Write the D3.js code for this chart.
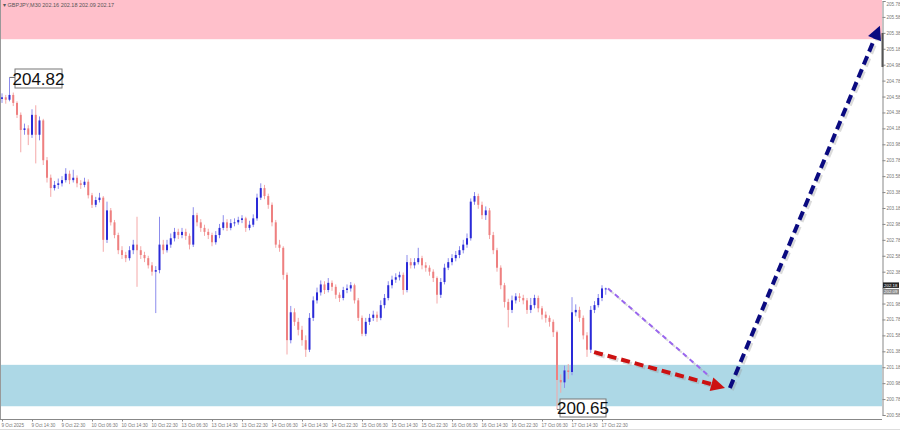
<!DOCTYPE html>
<html><head><meta charset="utf-8">
<script src="https://cdn.jsdelivr.net/npm/d3@7/dist/d3.min.js"></script>
<style>
html,body{margin:0;padding:0;background:#fff;}
svg{display:block;font-family:"Liberation Sans",Arial,sans-serif;}
</style></head>
<body><svg id="c" width="900" height="430"></svg>
<script>
// ---- data (GBPJPY, 1 slot = 3.75px) ----
const title = "GBPJPY,M30  202.16 202.18 202.09 202.17";
const firstOpen = 204.55;
const closes = [204.57,204.54,204.60,204.50,204.35,204.16,204.18,204.10,204.35,204.10,
204.28,203.78,203.56,203.43,203.47,203.49,203.53,203.61,203.53,203.56,
203.49,203.47,203.51,203.34,203.22,203.28,203.31,202.78,203.15,203.00,
202.84,202.65,202.59,202.55,202.65,202.72,202.65,202.59,202.55,202.46,
202.38,202.40,202.72,202.65,202.72,202.80,202.88,202.84,202.88,202.83,
202.72,203.09,203.00,202.93,202.88,202.84,202.75,202.84,202.93,203.00,
202.93,202.99,203.00,203.03,203.05,202.93,202.97,203.05,203.31,203.43,
203.33,203.22,203.00,202.72,202.68,202.34,201.52,201.87,201.75,201.65,
201.52,201.40,201.80,202.02,202.12,202.22,202.15,202.24,202.19,202.09,
202.05,202.15,202.17,202.21,202.02,201.80,201.60,201.75,201.80,201.84,
201.80,201.96,202.05,202.21,202.28,202.31,202.34,202.15,202.50,202.46,
202.50,202.55,202.46,202.43,202.38,202.30,202.09,202.25,202.43,202.50,
202.55,202.59,202.65,202.72,202.80,203.26,203.33,203.22,203.09,203.15,
202.84,202.65,202.43,202.21,202.00,201.90,202.02,202.07,202.05,202.02,
201.90,201.96,202.05,201.92,201.84,201.80,201.75,201.62,201.02,200.99,
201.14,201.12,201.87,201.90,201.80,201.58,201.40,201.90,201.96,202.05,
202.17,202.17];
const highs = [204.62,204.60,204.82,204.63,204.52,204.38,204.24,204.22,204.42,204.47,
204.33,204.30,203.82,203.60,203.52,203.55,203.58,203.68,203.65,203.66,
203.59,203.53,203.56,203.54,203.37,203.32,203.37,203.33,203.26,203.18,
203.03,202.87,202.70,202.63,202.70,202.78,203.07,202.70,202.63,202.58,
202.50,202.45,203.07,202.78,202.78,202.86,202.93,202.92,202.93,202.92,
202.86,203.19,203.12,203.04,202.97,202.92,202.87,202.89,202.98,203.09,
203.04,203.04,203.05,203.07,203.09,203.07,203.02,203.10,203.36,203.49,
203.47,203.36,203.25,203.03,202.78,202.70,202.37,201.95,201.92,201.80,
201.70,201.58,201.86,202.07,202.18,202.27,202.26,202.30,202.27,202.22,
202.12,202.19,202.22,202.25,202.23,202.05,201.83,201.80,201.85,201.89,
201.88,202.02,202.10,202.26,202.33,202.36,202.38,202.37,202.59,202.55,
202.55,202.68,202.58,202.50,202.46,202.41,202.32,202.30,202.48,202.55,
202.60,202.64,202.70,202.78,202.86,203.30,203.38,203.36,203.26,203.20,
203.18,202.88,202.68,202.46,202.24,202.04,202.08,202.11,202.11,202.09,
202.05,202.05,202.09,202.08,201.95,201.88,201.83,201.78,201.64,201.09,
201.20,201.22,202.06,201.97,201.94,201.83,201.62,201.95,202.01,202.10,
202.21,202.18];
const lows = [204.50,204.49,204.52,204.46,204.31,203.88,204.10,203.97,204.06,203.74,
204.03,203.72,203.50,203.32,203.40,203.42,203.45,203.50,203.48,203.50,
203.44,203.42,203.44,203.30,203.18,203.19,203.25,202.63,202.74,202.96,
202.80,202.60,202.54,202.50,202.52,202.60,202.19,202.54,202.50,202.42,
202.33,201.86,202.36,202.60,202.62,202.68,202.76,202.79,202.80,202.78,
202.66,202.69,202.95,202.88,202.83,202.79,202.70,202.72,202.80,202.90,
202.89,202.90,202.95,202.97,202.99,202.88,202.90,202.94,203.02,203.28,
203.29,203.17,202.95,202.68,202.63,202.28,201.34,201.48,201.70,201.58,
201.45,201.31,201.37,201.76,201.98,202.08,202.10,202.12,202.14,202.04,
202.00,202.02,202.11,202.13,201.98,201.76,201.57,201.57,201.71,201.76,
201.75,201.77,201.92,202.02,202.17,202.24,202.27,202.09,202.12,202.42,
202.42,202.47,202.41,202.38,202.33,202.25,201.98,202.05,202.22,202.40,
202.46,202.51,202.55,202.61,202.68,202.77,203.22,203.17,203.04,203.03,
202.79,202.60,202.38,202.16,201.93,201.68,201.86,201.98,202.00,201.97,
201.85,201.86,201.92,201.87,201.78,201.74,201.69,201.56,200.65,200.86,
200.92,201.03,201.08,201.82,201.75,201.53,201.31,201.36,201.86,201.93,
202.01,202.09];
const yTickValues = [205.78,205.58,205.38,205.18,204.98,204.78,204.58,204.38,204.18,203.98,
203.78,203.58,203.38,203.18,202.98,202.78,202.58,202.38,202.18,201.98,201.78,201.58,
201.38,201.18,200.98,200.78,200.58];
const xTickLabels = ["9 Oct 2025","9 Oct 14:30","9 Oct 22:30","10 Oct 06:30","10 Oct 14:30",
"10 Oct 22:30","13 Oct 06:30","13 Oct 14:30","13 Oct 22:30","14 Oct 06:30","14 Oct 14:30",
"14 Oct 22:30","15 Oct 06:30","15 Oct 14:30","15 Oct 22:30","16 Oct 06:30","16 Oct 14:30",
"16 Oct 22:30","17 Oct 06:30","17 Oct 14:30","17 Oct 22:30"];
const xTickSlots = xTickLabels.map((d,i)=>i*8);
// zones [from, to] in price
const sellZone = [205.30, 205.80];
const buyZone = [200.69, 201.21];
// forecast paths: [slot, price]
const purplePath = [[161.6,202.17],[188.8,201.06]];
const redArrow = [[157.9,201.37],[192.8,200.92]];
const navyArrow = [[194.1,200.92],[234.1,205.47]];
const bidAsk = ["202.18","202.09"];

// ---- drawing ----
const svg = d3.select("#c");
const W = 882, B = 419;
const x = d3.scaleLinear().domain([0,235.2]).range([2,884]);
const y = d3.scaleLinear().domain([200.58,205.78]).range([415,1]);
const opens = closes.map((c,i)=> i===0 ? firstOpen : closes[i-1]);
const candles = closes.map((c,i)=>({i, o:opens[i], c, h:highs[i], l:lows[i]}));

svg.append("defs").append("clipPath").attr("id","clip")
  .append("rect").attr("x",0).attr("y",0).attr("width",W).attr("height",B);
const plot = svg.append("g").attr("clip-path","url(#clip)");

plot.append("rect").attr("x",0).attr("width",W)
  .attr("y",y(sellZone[1])).attr("height",y(sellZone[0])-y(sellZone[1])).attr("fill","#ffc0cb");
plot.append("rect").attr("x",0).attr("width",W)
  .attr("y",y(buyZone[1])).attr("height",y(buyZone[0])-y(buyZone[1])).attr("fill","#add8e6");

// candles
const cg = plot.append("g");
cg.selectAll("line.w").data(candles).join("line")
  .attr("x1",d=>x(d.i)).attr("x2",d=>x(d.i))
  .attr("y1",d=>y(d.h)).attr("y2",d=>y(d.l))
  .attr("stroke",d=>d.c>=d.o?"#8c8cec":"#f4a8a8").attr("stroke-width",1);
cg.selectAll("rect.b").data(candles).join("rect")
  .attr("x",d=>x(d.i)-1).attr("width",2)
  .attr("y",d=>y(Math.max(d.o,d.c)))
  .attr("height",d=>Math.max(1,Math.abs(y(d.o)-y(d.c))))
  .attr("fill",d=>d.c>=d.o?"#2a2ad8":"#ee8080");

// arrows
function arrow(path, color, w, dash, head){
  const [p0,p1] = path;
  const x0=x(p0[0]), y0=y(p0[1]), x1=x(p1[0]), y1=y(p1[1]);
  const ang = Math.atan2(y1-y0, x1-x0);
  const hl = head ? 14 : 0;
  const xe = x1 - Math.cos(ang)*hl*0.8, ye = y1 - Math.sin(ang)*hl*0.8;
  plot.append("line").attr("x1",x0+2).attr("y1",y0+2).attr("x2",xe+2).attr("y2",ye+2)
    .attr("stroke","#999").attr("stroke-opacity",0.35).attr("stroke-width",w)
    .attr("stroke-dasharray",dash);
  plot.append("line").attr("x1",x0).attr("y1",y0).attr("x2",xe).attr("y2",ye)
    .attr("stroke",color).attr("stroke-width",w).attr("stroke-dasharray",dash);
  if(head){
    const hw = 7;
    const bx = x1 - Math.cos(ang)*hl, by = y1 - Math.sin(ang)*hl;
    const pts = [[x1,y1],[bx+Math.sin(ang)*hw, by-Math.cos(ang)*hw],[bx-Math.sin(ang)*hw, by+Math.cos(ang)*hw]];
    plot.append("polygon").attr("points",pts.map(p=>p.join(",")).join(" ")).attr("fill",color);
  }
}
arrow(purplePath,"#9a66ee",2,"5,4",false);
arrow(redArrow,"#cc1111",4,"9,5",true);
arrow(navyArrow,"#0a0a80",4,"9,5",true);

// high / low labels
const hiIdx = d3.maxIndex(highs), loIdx = d3.minIndex(lows);
function valueBox(i, v, bx, by, bw, bh){
  plot.append("line").attr("x1",x(i)).attr("x2",bx).attr("y1",y(v)).attr("y2",y(v))
    .attr("stroke","#666").attr("stroke-width",1);
  plot.append("rect").attr("x",bx).attr("y",by).attr("width",bw).attr("height",bh)
    .attr("fill","#fff").attr("stroke","#777").attr("stroke-width",1);
  plot.append("text").attr("x",bx+bw/2).attr("y",by+bh/2+6).attr("text-anchor","middle")
    .attr("font-size",17).attr("fill","#111").text(v.toFixed(2));
}
valueBox(hiIdx, highs[hiIdx], 15, 69, 47, 19);
valueBox(loIdx, lows[loIdx], 560, 399, 46, 18);

// frame
svg.append("line").attr("x1",0.5).attr("x2",0.5).attr("y1",0).attr("y2",B).attr("stroke","#999");
svg.append("line").attr("x1",0).attr("x2",900).attr("y1",429.5).attr("y2",429.5).attr("stroke","#ddd");

// axes
const lastC = closes[closes.length-1];
const ya = svg.append("g").attr("transform",`translate(${W}.5,0)`)
  .call(d3.axisRight(y).tickValues(yTickValues).tickSize(3).tickPadding(1)
    .tickFormat(d => Math.abs(y(d)-y(lastC))<6 ? "" : d3.format(".2f")(d)));
ya.select(".domain").attr("stroke","#888");
ya.selectAll(".tick line").attr("stroke","#888");
ya.selectAll("text").attr("font-size",4.6).attr("fill","#777").attr("font-family","Liberation Sans,Arial")
  .attr("dy",(d,i)=> i===0 ? "0.9em" : "0.32em");
svg.append("rect").attr("x",W-0.5).attr("y",33).attr("width",2).attr("height",34).attr("fill","#555");

const xa = svg.append("g").attr("transform",`translate(0,${B}.5)`)
  .call(d3.axisBottom(x).tickValues(xTickSlots).tickSize(2).tickPadding(2).tickFormat((d,i)=>xTickLabels[i]));
xa.select(".domain").attr("stroke","#888").attr("d",`M0,0H${W}`);
xa.selectAll(".tick line").attr("stroke","#888");
xa.selectAll("text").attr("font-size",4.6).attr("fill","#777").attr("text-anchor","start")
  .attr("dx",-1).attr("dy","0.71em").attr("font-family","Liberation Sans,Arial");

// bid/ask boxes
[[bidAsk[0],"#222",y(lastC)-6],[bidAsk[1],"#888",y(lastC)+0.5]].forEach(([t,col,yy])=>{
  svg.append("rect").attr("x",W+1).attr("y",yy).attr("width",16).attr("height",5.5).attr("fill",col);
  svg.append("text").attr("x",W+2).attr("y",yy+4.3).attr("font-size",4.4).attr("fill","#fff").text(t);
});

// title
svg.append("text").attr("x",3).attr("y",7).attr("font-size",5.5).attr("fill","#555").text("▾ "+title);
</script></body></html>
